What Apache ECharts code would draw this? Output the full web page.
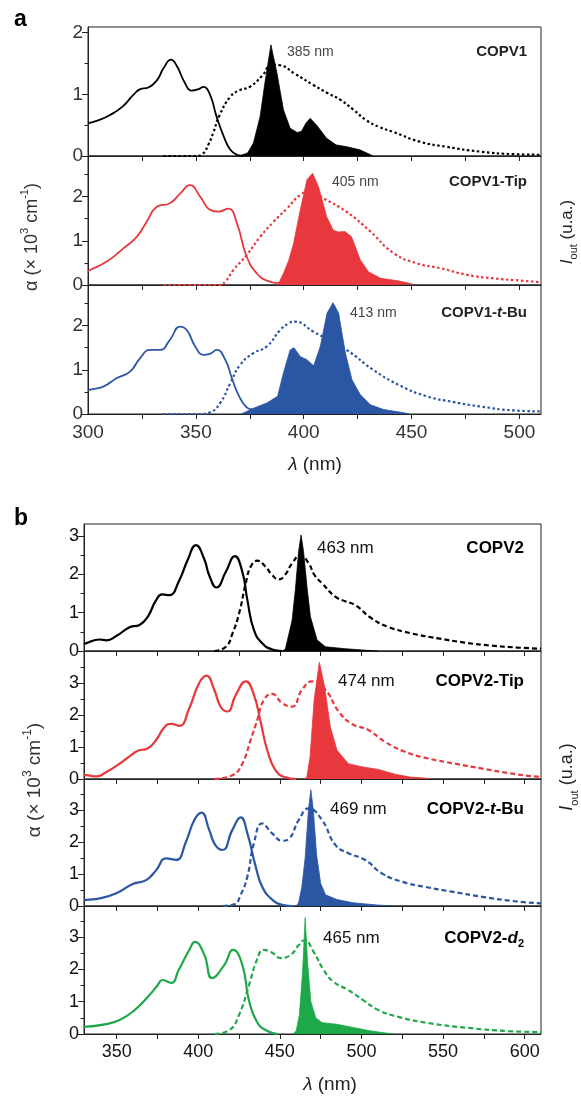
<!DOCTYPE html>
<html><head><meta charset="utf-8">
<script src="https://cdn.jsdelivr.net/npm/echarts@6/dist/echarts.min.js"></script>
<style>html,body{margin:0;padding:0;background:#fff}#c{width:581px;height:1099px}</style>
</head><body><div id="c"></div><script>
// ---------- DATA (wavelength nm, value) ----------
const xTicksA = [325,350,375,400,425,450,475,500];
const xLabelsA = [300,350,400,450,500];
const xTicksB = [350,375,400,425,450,475,500,525,550,575,600];
const xLabelsB = [350,400,450,500,550,600];

const copv1Abs = [[300,0.53],[305,0.58],[310,0.66],[316,0.80],[321,0.99],[324,1.08],[328,1.11],[332,1.23],[335,1.42],[338.5,1.56],[341,1.47],[345,1.18],[348,1.06],[351,1.08],[353.5,1.12],[356.5,1.0],[359.5,0.65],[363,0.31],[366,0.10],[369,0.02],[372,0]];
const copv1PL = [[335,0],[350,0],[353,0.03],[356,0.2],[358,0.37],[361,0.66],[366,0.96],[370.5,1.07],[375,1.12],[381,1.31],[385,1.48],[389,1.47],[396,1.33],[404.5,1.15],[411,1.02],[417,0.91],[423,0.75],[429,0.58],[435,0.47],[441.5,0.39],[454,0.23],[466,0.15],[482,0.07],[497,0.03],[510,0.02]];
const copv1ASE = [[370,0],[374,0.05],[376.7,0.21],[379.8,0.64],[382,1.18],[384.8,1.80],[387.6,1.34],[390.6,0.75],[393.7,0.45],[397,0.38],[399,0.40],[401,0.53],[403,0.61],[406,0.50],[410.5,0.29],[415,0.18],[420,0.15],[426,0.10],[431,0.02],[432,0]];

const copv1TipAbs = [[300,0.32],[301,0.34],[308.7,0.53],[316.4,0.83],[322.6,1.09],[327.2,1.43],[331.9,1.77],[338,1.85],[342.7,2.07],[347.3,2.26],[352,2.0],[356.6,1.70],[360.5,1.66],[365.1,1.73],[369,1.40],[373.6,0.64],[378.3,0.26],[382.9,0.10],[389,0.05],[393,0.06]];
const copv1TipPL = [[335,0],[361,0],[364,0.1],[367.4,0.34],[373.6,0.68],[379.8,1.09],[386,1.43],[392.2,1.73],[398.4,2.04],[403,2.12],[409.2,1.96],[419.8,1.66],[430.9,1.21],[441.7,0.72],[452.6,0.49],[463.4,0.38],[475.7,0.23],[488.1,0.15],[500.5,0.10],[510,0.06]];
const copv1TipASE = [[388,0],[390.6,0.26],[393,0.55],[395.3,0.94],[398.4,1.70],[401.5,2.38],[404.1,2.53],[406.9,2.22],[410.6,1.55],[413.7,1.24],[416,1.20],[419.1,1.21],[422.2,1.09],[426.2,0.57],[430,0.30],[435.7,0.15],[443.1,0.10],[450.6,0.02],[451,0]];

const copv1tBuAbs = [[300,0.53],[301,0.55],[307.1,0.62],[313.2,0.81],[319.5,0.96],[324.1,1.26],[328.8,1.45],[333.4,1.45],[338,1.68],[342.7,1.98],[345.8,1.90],[349.7,1.53],[353.5,1.34],[356.5,1.36],[359.7,1.45],[363.6,1.23],[366.7,0.81],[369.7,0.44],[373.6,0.15],[376.7,0.10],[378,0.09]];
const copv1tBuPL = [[335,0],[352,0],[356.6,0.04],[361.3,0.25],[366,0.70],[370.5,1.11],[376.7,1.38],[382.9,1.53],[389.1,1.90],[393,2.05],[396,2.09],[404.6,1.86],[419.8,1.45],[432.2,1.0],[444.8,0.64],[457.1,0.40],[469.5,0.27],[481.9,0.17],[497.3,0.08],[510,0.06]];
const copv1tBuASE = [[371,0],[374,0.07],[376.7,0.13],[382.9,0.25],[387.9,0.40],[390.6,0.93],[393.7,1.45],[395.5,1.50],[398.4,1.30],[401.5,1.23],[404.6,1.09],[407.7,1.53],[410.8,2.28],[413.6,2.52],[416.2,2.28],[419.3,1.38],[422.4,0.77],[426.2,0.44],[430.9,0.21],[437.1,0.10],[446.4,0.03],[449,0]];

const copv2Abs = [[330,0.18],[331,0.20],[339.6,0.30],[343.7,0.28],[349.8,0.39],[357.9,0.62],[364,0.68],[369.1,0.90],[374.2,1.33],[377.9,1.48],[382.3,1.46],[388.4,1.85],[393.5,2.38],[398.6,2.77],[403.7,2.40],[406.7,1.98],[411.2,1.66],[416.9,2.07],[422.4,2.48],[427,2.07],[430.1,1.33],[434.1,0.55],[439.2,0.20],[445.3,0.04],[451.4,0]];
const copv2PL = [[409.8,0],[416.9,0.11],[421,0.46],[425,0.98],[429.1,1.77],[432.1,2.20],[436.2,2.36],[441.3,2.20],[445,2.0],[449.4,1.87],[453,1.98],[457.5,2.29],[462.6,2.50],[467.7,2.29],[471,2.0],[475.8,1.77],[484,1.42],[490,1.30],[496.2,1.20],[506.3,0.85],[516.5,0.63],[530.7,0.46],[547,0.33],[563.2,0.22],[579.5,0.14],[595.7,0.09],[610,0.06]];
const copv2ASE = [[452,0],[453.5,0.07],[457.5,0.8],[459.5,1.6],[461.5,2.6],[463,3.03],[464.5,2.6],[466.8,1.6],[468.7,0.9],[472.8,0.29],[477.9,0.11],[490.1,0.06],[502.3,0.02],[510,0]];

const copv2TipAbs = [[330,0.12],[331,0.12],[337.6,0.08],[343.7,0.22],[351.8,0.48],[357.9,0.71],[363,0.88],[369.1,0.96],[374.2,1.22],[379.3,1.62],[383.4,1.72],[388.4,1.66],[394.5,2.21],[400.6,3.0],[405.1,3.23],[409.8,2.79],[413.8,2.25],[417.9,2.11],[423,2.63],[429.1,3.05],[434.1,2.63],[438.2,1.79],[442.3,0.90],[447.4,0.27],[453.5,0.05],[460,0]];
const copv2TipPL = [[409.8,0],[421,0.12],[427,0.48],[432.1,1.22],[436.2,1.85],[440.2,2.47],[445.3,2.66],[451.4,2.37],[457.5,2.26],[463.6,2.79],[469.7,3.05],[477.9,2.79],[486,2.11],[494.2,1.72],[504.3,1.53],[514.5,1.16],[526.7,0.85],[540.9,0.64],[557.2,0.48],[573.4,0.33],[589.6,0.19],[605.9,0.08],[610,0.07]];
const copv2TipASE = [[465,0],[466.5,0.05],[468.5,0.69],[471,2.47],[474.2,3.65],[477.4,2.89],[480.9,1.63],[485,0.90],[492,0.48],[500.2,0.38],[510.4,0.30],[520.6,0.15],[530,0.06],[538.8,0.03],[542,0]];

const copv2tBuAbs = [[330,0.17],[331.5,0.19],[339.6,0.24],[349.8,0.40],[359.9,0.69],[368.1,0.81],[374.2,1.12],[380.3,1.49],[386.4,1.44],[392.5,2.01],[397.6,2.69],[402,2.92],[406.7,2.38],[410.5,1.9],[414.8,1.75],[420.9,2.38],[426,2.77],[430.1,2.27],[435.2,1.23],[439.2,0.60],[445.3,0.2],[452,0.03],[458,0]];
const copv2tBuPL = [[415,0],[422,0.05],[426,0.35],[430.1,0.92],[434.1,1.96],[439.2,2.58],[445.3,2.27],[451.4,2.04],[455.5,2.10],[461.6,2.69],[467.7,3.05],[475.8,2.69],[484,1.91],[492,1.65],[502.3,1.44],[512.5,1.02],[524.7,0.76],[538.8,0.60],[555.1,0.45],[575,0.28],[592,0.16],[610,0.08]];
const copv2tBuASE = [[460,0],[461.5,0.1],[463.5,0.6],[465.5,1.5],[467.5,3.0],[469,3.63],[470.5,3.0],[472.5,1.6],[475,0.7],[478,0.35],[485,0.2],[495,0.1],[510,0.03],[520,0]];

const copv2d2Abs = [[330,0.22],[342.7,0.3],[351.8,0.43],[361,0.74],[370,1.2],[375,1.5],[378,1.67],[383.5,1.58],[388,1.98],[394.5,2.6],[398,2.85],[403.7,2.45],[408.5,1.73],[416,2.14],[421.3,2.6],[427,2.14],[431,1.05],[436,0.37],[442,0.1],[449,0]];
const copv2d2PL = [[410,0],[419,0.12],[425,0.59],[431,1.5],[436,2.3],[440,2.6],[444.5,2.54],[450.6,2.35],[456.7,2.45],[461.6,2.75],[465,2.9],[470.7,2.54],[476.8,1.98],[483,1.61],[492,1.36],[501,1.05],[510.4,0.74],[522.6,0.53],[541,0.34],[565,0.19],[590,0.09],[610,0.06]];
const copv2d2ASE = [[458,0],[460,0.1],[462,0.6],[464,2.0],[465.5,3.6],[467,2.2],[469,1.0],[472,0.5],[476,0.35],[485,0.3],[495,0.2],[505,0.1],[515,0.03],[520,0]];

const peakLabels = ['385 nm','405 nm','413 nm','463 nm','474 nm','469 nm','465 nm'];
const names = ['{b|COPV1}','{b|COPV1-Tip}','{b|COPV1-}{bi|t}{b|-Bu}','{B|COPV2}','{B|COPV2-Tip}','{B|COPV2-}{Bi|t}{B|-Bu}','{B|COPV2-}{Bi|d}{Bs|2}'];

// ---------- LAYOUT ----------
const FONT = '"Liberation Sans", Arial, Helvetica, sans-serif';
const RED = '#e8383d', BLUE = '#2b56a3', GREEN = '#1ea84a', BLACK = '#000000';
const subs = [
  {p:'a', left:88, right:541, top:27,  h:129, ymax:2.09, maj:[0,1,2], min:[0.5,1.5], c:BLACK, abs:copv1Abs, pl:copv1PL, ase:copv1ASE, nmX:287, nmY:52},
  {p:'a', left:88, right:541, top:156, h:129, ymax:2.92, maj:[0,1,2], min:[0.5,1.5,2.5], c:RED, abs:copv1TipAbs, pl:copv1TipPL, ase:copv1TipASE, nmX:332, nmY:182},
  {p:'a', left:88, right:541, top:285, h:129, ymax:2.92, maj:[0,1,2], min:[0.5,1.5,2.5], c:BLUE, abs:copv1tBuAbs, pl:copv1tBuPL, ase:copv1tBuASE, nmX:350, nmY:313},
  {p:'b', left:84, right:541, top:524, h:127, ymax:3.32, maj:[0,1,2,3], min:[0.5,1.5,2.5], c:BLACK, abs:copv2Abs, pl:copv2PL, ase:copv2ASE, nmX:317, nmY:548},
  {p:'b', left:84, right:541, top:651, h:128, ymax:4.0, maj:[0,1,2,3], min:[0.5,1.5,2.5,3.5], c:RED, abs:copv2TipAbs, pl:copv2TipPL, ase:copv2TipASE, nmX:338, nmY:681},
  {p:'b', left:84, right:541, top:779, h:127, ymax:3.97, maj:[0,1,2,3], min:[0.5,1.5,2.5,3.5], c:BLUE, abs:copv2tBuAbs, pl:copv2tBuPL, ase:copv2tBuASE, nmX:330, nmY:809},
  {p:'b', left:84, right:541, top:906, h:128, ymax:3.96, maj:[0,1,2,3], min:[0.5,1.5,2.5,3.5], c:GREEN, abs:copv2d2Abs, pl:copv2d2PL, ase:copv2d2ASE, nmX:323, nmY:938}
];
const AX = '#222';
const grid = [], xAxis = [], yAxis = [], series = [], graphic = [];
subs.forEach((s, i) => {
  const isA = s.p === 'a';
  const last = (i === 2 || i === 6);
  const xmin = isA ? 300 : 330, xmax = isA ? 510 : 610;
  const ticks = isA ? xTicksA : xTicksB, labs = isA ? xLabelsA : xLabelsB;
  const labColor = isA ? '#333' : '#111';
  const fs = isA ? 19 : 18;
  const gBox = {left: s.left, top: s.top, width: s.right - s.left, height: s.h};
  grid.push(Object.assign({show: true, borderColor: AX, borderWidth: 1, backgroundColor: 'transparent'}, gBox));
  grid.push(Object.assign({show: false}, gBox));
  const g1 = 2*i, g2 = 2*i+1;
  xAxis.push({type:'value', gridIndex:g1, min:xmin, max:xmax, position:'bottom',
    axisLine:{show:true, onZero:false, lineStyle:{color:AX, width:1}},
    axisTick:{show:true, inside:false, length:5, customValues:ticks, lineStyle:{color:AX, width:1}},
    axisLabel:{show:last, customValues:labs, margin:9, color:labColor, fontSize:fs, fontFamily:FONT},
    splitLine:{show:false}});
  xAxis.push({type:'value', gridIndex:g2, min:xmin, max:xmax, position:'top',
    axisLine:{show:false},
    axisTick:{show:true, inside:true, length:5, customValues:ticks, lineStyle:{color:AX, width:1}},
    axisLabel:{show:false}, splitLine:{show:false}});
  yAxis.push({type:'value', gridIndex:g1, min:0, max:s.ymax, position:'left',
    axisLine:{show:true, onZero:false, lineStyle:{color:AX, width:1}},
    axisTick:{show:true, inside:false, length:6, customValues:s.maj, lineStyle:{color:AX, width:1}},
    axisLabel:{show:true, customValues:s.maj, margin:5, color:labColor, fontSize:fs, fontFamily:FONT},
    splitLine:{show:false}});
  yAxis.push({type:'value', gridIndex:g2, min:0, max:s.ymax, position:'left',
    axisLine:{show:false},
    axisTick:{show:true, inside:false, length:3.5, customValues:s.min, lineStyle:{color:AX, width:1}},
    axisLabel:{show:false}, splitLine:{show:false}});
  const base = {type:'line', xAxisIndex:g1, yAxisIndex:g1, symbol:'none', smooth:0.5, silent:true, animation:false};
  series.push(Object.assign({}, base, {data:s.pl, z:2, lineStyle:{color:s.c, width:2.2, type:isA?[2.5,2.5]:[5,3]}}));
  series.push(Object.assign({}, base, {data:s.abs, z:3, lineStyle:{color:s.c, width:isA?1.8:2.2}}));
  series.push(Object.assign({}, base, {data:s.ase, z:4, smooth:false, lineStyle:{color:s.c, width:0.8}, areaStyle:{color:s.c, opacity:1, origin:'start'}}));
  // annotations
  graphic.push({type:'text', z:10, style:{x:s.nmX, y:s.nmY, text:peakLabels[i], fill:isA?'#444':'#111', font:(isA?'14px ':'17px ')+FONT, align:'left', verticalAlign:'middle'}});
  graphic.push({type:'text', z:10, style:{x:isA?527:524, y:s.nmY, text:names[i], align:'right', verticalAlign:'middle',
    rich:{
      b:{fontSize:15, fontWeight:'bold', fontFamily:FONT, fill:'#222'},
      bi:{fontSize:15, fontWeight:'bold', fontStyle:'italic', fontFamily:FONT, fill:'#222'},
      B:{fontSize:17, fontWeight:'bold', fontFamily:FONT, fill:'#000', lineHeight:22},
      Bi:{fontSize:17, fontWeight:'bold', fontStyle:'italic', fontFamily:FONT, fill:'#000', lineHeight:22},
      Bs:{fontSize:11, fontWeight:'bold', fontFamily:FONT, fill:'#000', lineHeight:12, verticalAlign:'bottom'}
    }}});
});

// panel letters and axis titles
graphic.push({type:'text', style:{x:14, y:20, text:'a', font:'bold 23px '+FONT, fill:'#000', verticalAlign:'middle'}});
graphic.push({type:'text', style:{x:14, y:519, text:'b', font:'bold 23px '+FONT, fill:'#000', verticalAlign:'middle'}});
function xTitle(x, y, fs) {
  return {type:'text', style:{x:x, y:y, text:'{i|λ}{n| (nm)}', align:'center', verticalAlign:'middle',
    rich:{i:{fontSize:fs, fontStyle:'italic', fontFamily:FONT, fill:'#222'}, n:{fontSize:fs, fontFamily:FONT, fill:'#222'}}}};
}
graphic.push(xTitle(315, 465, 19));
graphic.push(xTitle(330, 1085, 19));
function yTitle(x, y, fs) {
  return {type:'text', x:x, y:y, rotation:Math.PI/2, style:{x:0, y:0, text:'{n|α (× 10}{s|3}{n| cm}{s|-1}{n|)}', align:'center', verticalAlign:'middle',
    rich:{n:{fontSize:fs, fontFamily:FONT, fill:'#333', lineHeight:fs+8}, s:{fontSize:Math.round(fs*0.62), fontFamily:FONT, fill:'#333', lineHeight:12, verticalAlign:'top'}}}};
}
graphic.push(yTitle(32, 237, 18));
graphic.push(yTitle(35, 780, 19));
function rTitle(x, y, fs) {
  return {type:'text', x:x, y:y, rotation:Math.PI/2, style:{x:0, y:0, text:'{i|I}{s|out}{n| (u.a.)}', align:'center', verticalAlign:'middle',
    rich:{i:{fontSize:fs, fontStyle:'italic', fontFamily:FONT, fill:'#222', lineHeight:fs+8}, n:{fontSize:fs, fontFamily:FONT, fill:'#222', lineHeight:fs+8}, s:{fontSize:Math.round(fs*0.62), fontFamily:FONT, fill:'#222', lineHeight:12, verticalAlign:'bottom'}}}};
}
graphic.push(rTitle(567, 232, 17));
graphic.push(rTitle(567, 777, 18));

const chart = echarts.init(document.getElementById('c'), null, {renderer:'canvas'});
chart.setOption({animation:false, backgroundColor:'#fff', grid, xAxis, yAxis, series, graphic});
</script></body></html>
